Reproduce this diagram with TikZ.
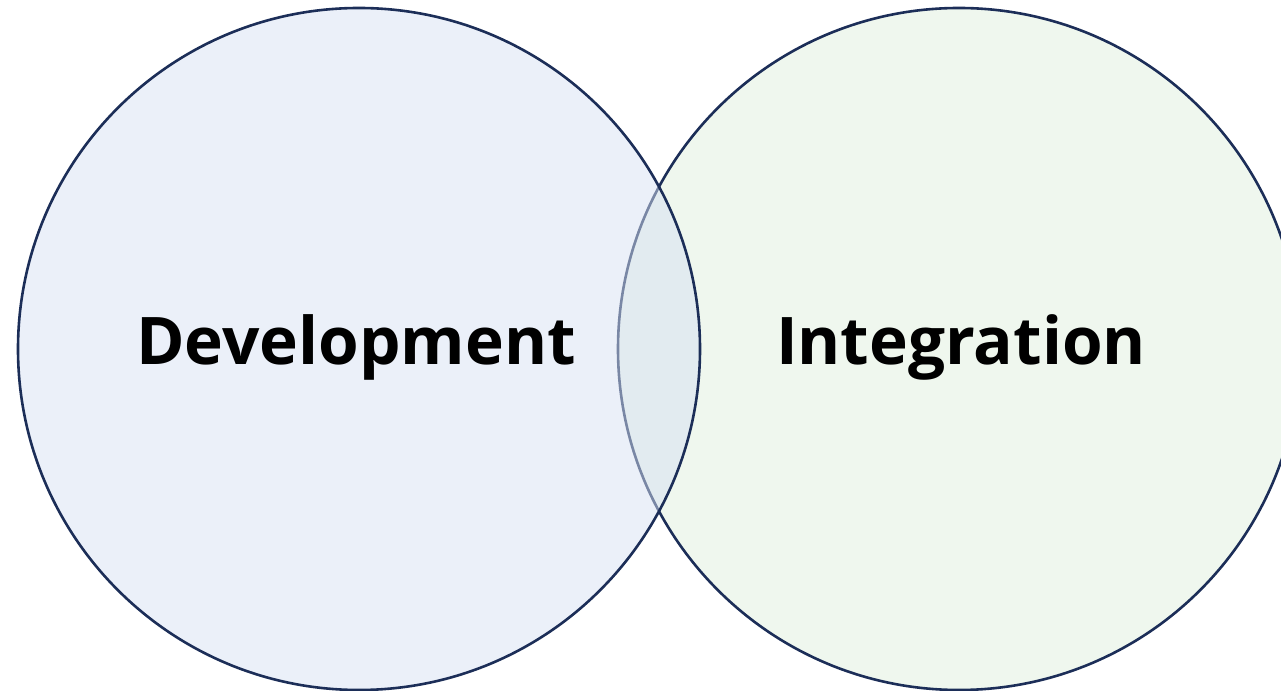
\documentclass[tikz,border=0pt]{standalone}
\usepackage{fontspec}
\newfontfamily\vennfont{Open Sans}
\usepackage{xcolor}
\definecolor{ringline}{RGB}{28,46,88}
\definecolor{devfill}{RGB}{215,225,243}
\definecolor{intfill}{RGB}{223,239,221}

\tikzset{
    ring/.style={circle, draw=ringline, line width=2.6pt, minimum size=682pt, inner sep=0pt, fill opacity=0.5, draw opacity=1},
    setname/.style={font=\vennfont\bfseries\fontsize{65.7}{78}\selectfont, text=black}
}

\begin{document}
\begin{tikzpicture}[x=1pt, y=1pt]
    \useasboundingbox (0,0) rectangle (1281,690);
    \clip (0,0) rectangle (1281,690);
    % right set first, the left one lies over it
    \node [ring, fill=intfill] (int) at (959,341) {};
    \node [ring, fill=devfill] (dev) at (359,341) {};
    \node [setname] (devname) at (356,343) {Development};
    \node [setname] (intname) at (961,343) {Integration};
\end{tikzpicture}
\end{document}
